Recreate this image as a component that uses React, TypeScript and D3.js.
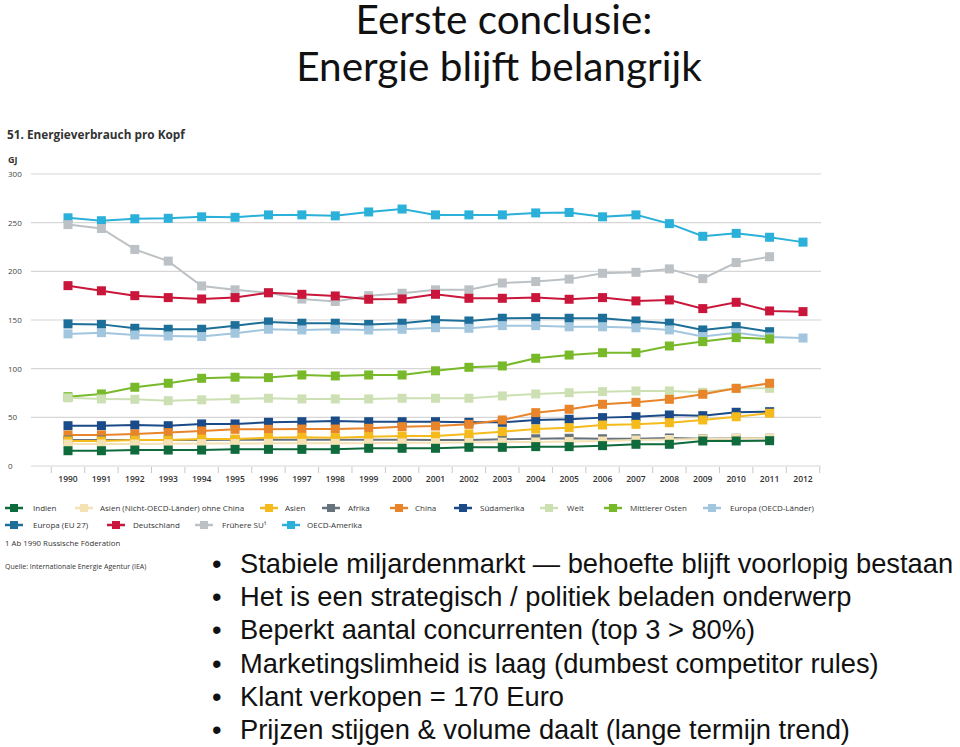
import React from "react";
import * as d3 from "d3";

const years = d3.range(1990, 2013);
const yTicks = [0, 50, 100, 150, 200, 250, 300];

const oecdAmerika = [255, 252, 254, 254.5, 256, 255.5, 258, 258, 257, 261, 264, 258, 258, 258, 260, 260.5, 256, 258, 249, 236, 239, 235, 230];
const fruehereSU = [248, 244, 222.5, 210.5, 185, 181, 178, 171.5, 169, 175, 177.5, 181, 181, 188, 189.5, 192, 198, 199, 202.5, 192.5, 209, 215];
const deutschland = [185.3, 180, 175, 173, 171.6, 173, 178, 176.4, 174.7, 171.3, 171.6, 176.4, 172.3, 172.3, 173, 171.3, 173, 169.6, 170.6, 161.7, 168.2, 159.3, 158.6];
const europaEU27 = [146, 145.5, 141.5, 140.5, 140.5, 144.2, 148, 146.7, 146.7, 145.5, 146.7, 150, 149, 151.8, 152, 151.8, 151.8, 149, 146.7, 139.8, 143.2, 138];
const europaOECD = [135.7, 137, 134.6, 133.6, 133, 136.4, 140.5, 139.8, 140.5, 139.8, 140.5, 142.1, 141.5, 144.2, 144.2, 143, 143, 142, 139.8, 133, 137, 132.6, 131.5];
const mittlererOsten = [71.2, 74, 80.9, 85, 90.1, 91.2, 90.8, 93.5, 92.5, 93.5, 93.5, 97.8, 101.4, 102.8, 110.7, 114, 116.4, 116.4, 123.3, 127.8, 131.9, 130.5];
const welt = [70, 68.9, 68.5, 67.1, 68, 68.9, 69.6, 68.9, 68.9, 68.9, 69.6, 69.6, 69.6, 72, 74, 75.3, 76.4, 77.1, 77.1, 75.7, 79.8, 79.8];
const china = [31.9, 31.9, 32.9, 34.3, 36, 37.7, 37.7, 38, 38, 38.7, 40.4, 41.1, 42.8, 47.3, 54.8, 58.3, 63.4, 65.4, 68.5, 73.7, 79.8, 85];
const suedamerika = [41.4, 41.4, 42.1, 41.4, 43.2, 43.2, 44.9, 45.5, 46.2, 45.5, 45.5, 45.5, 44.9, 44.9, 47.3, 48, 49.7, 50.6, 52.4, 51.7, 55.2, 55.8];
const asien = [25.7, 25.7, 26.7, 26.7, 27.7, 27.7, 29.1, 29.5, 29.1, 30.1, 30.8, 30.8, 32.9, 35.3, 38, 39.4, 42.1, 42.8, 44.5, 47.3, 50.6, 54.2];
const afrika = [26.7, 26.7, 26.7, 26.7, 26.7, 26.9, 26.9, 26.9, 26.9, 26.9, 26.9, 26.7, 26.7, 27.5, 28, 28.5, 28, 28, 28.8, 28, 28.5, 28.5];
const asienNichtOECD = [22.6, 22.6, 22.6, 22.8, 23, 23, 23.3, 23.3, 23.3, 23.5, 23.8, 24, 24.2, 24.5, 24.7, 25.2, 25.7, 26.7, 27.2, 27.8, 28.4, 28.4];
const indien = [15.7, 15.7, 16.4, 16.4, 16.4, 17.1, 17.1, 17.1, 17.1, 18.2, 18.2, 18.2, 19.2, 19.2, 19.9, 19.9, 20.9, 22.3, 22.3, 25.7, 25.7, 26];

const seriesNames = [
  "Indien", "Asien (Nicht-OECD-Länder) ohne China", "Asien", "Afrika", "China", "Südamerika",
  "Welt", "Mittlerer Osten", "Europa (OECD-Länder)", "Europa (EU 27)", "Deutschland", "Frühere SU¹", "OECD-Amerika",
];
const seriesValues = [
  indien, asienNichtOECD, asien, afrika, china, suedamerika,
  welt, mittlererOsten, europaOECD, europaEU27, deutschland, fruehereSU, oecdAmerika,
];
const seriesColors = [
  "#0f6a3c", "#f4e2b4", "#f5ba1c", "#66737d", "#e8842a", "#1a4a87",
  "#cde0b4", "#78b92a", "#a3c6df", "#1d6f99", "#c9163a", "#bcc1c5", "#2ab0d9",
];
// legend layout: [row, markerX, textX]
const legendPos = [
  [0, 5, 33], [0, 75, 100], [0, 260, 285], [0, 322, 348], [0, 390, 415], [0, 454, 480],
  [0, 540, 567], [0, 604, 630], [0, 703, 730], [1, 5, 33], [1, 107, 133], [1, 195, 222], [1, 282, 307],
];

const bullets = [
  "Stabiele miljardenmarkt \u2014 behoefte blijft voorlopig bestaan",
  "Het is een strategisch / politiek beladen onderwerp",
  "Beperkt aantal concurrenten (top 3 > 80%)",
  "Marketingslimheid is laag (dumbest competitor rules)",
  "Klant verkopen = 170 Euro",
  "Prijzen stijgen & volume daalt (lange termijn trend)",
];

export default function App() {
  const x = d3.scaleLinear().domain([1990, 2012]).range([68, 803]);
  const y = d3.scaleLinear().domain([0, 300]).range([466, 174]);
  const line = d3
    .line<number>()
    .x((_, i) => x(years[i]))
    .y((v) => y(v));
  const chartFont = "'Open Sans', 'Noto Sans', sans-serif";
  const ms = 9;
  const drawOrder = d3.range(seriesNames.length).reverse();
  return (
    <svg width={960} height={747} style={{ position: "absolute", left: 0, top: 0, background: "#fff" }}>
      <g fontFamily="Lato, 'Open Sans', sans-serif" fontSize={40.5} fill="#111" textAnchor="middle">
        <text x={504} y={34}>Eerste conclusie:</text>
        <text x={499} y={81}>Energie blijft belangrijk</text>
      </g>
      <g fontFamily={chartFont}>
        <text x={7} y={139} fontSize={11.8} fontWeight={700} fill="#333">51. Energieverbrauch pro Kopf</text>
        <text x={8} y={163} fontSize={9} fontWeight={700} fill="#333">GJ</text>
        {yTicks.map((t) => (
          <g key={t}>
            <line x1={31} x2={821} y1={y(t)} y2={y(t)} stroke="#d6d6d6" strokeWidth={1.2} />
            <text x={8} y={y(t) + 3} fontSize={8} fill="#444">{t}</text>
          </g>
        ))}
        {years.map((yr) => (
          <g key={yr}>
            <line x1={x(yr) - 16.7} x2={x(yr) - 16.7} y1={467} y2={473} stroke="#c8c8c8" />
            <text x={x(yr)} y={482} fontSize={8.5} fontWeight={600} textAnchor="middle" fill="#333">{yr}</text>
          </g>
        ))}
        <line x1={x(2012) + 16.7} x2={x(2012) + 16.7} y1={467} y2={473} stroke="#c8c8c8" />
        {drawOrder.map((k) => (
          <g key={seriesNames[k]}>
            <path d={line(seriesValues[k]) || ""} fill="none" stroke={seriesColors[k]} strokeWidth={2} />
            {seriesValues[k].map((v, i) => (
              <rect key={i} x={x(years[i]) - ms / 2} y={y(v) - ms / 2} width={ms} height={ms} fill={seriesColors[k]} />
            ))}
          </g>
        ))}
        {seriesNames.map((n, k) => {
          const [row, mx, tx] = legendPos[k];
          const cy = 508 + row * 17;
          return (
            <g key={n}>
              <line x1={mx} x2={mx + 18} y1={cy} y2={cy} stroke={seriesColors[k]} strokeWidth={2.5} />
              <rect x={mx + 5} y={cy - 4} width={8} height={8} fill={seriesColors[k]} />
              <text x={tx} y={cy + 3} fontSize={8} fill="#333">{n}</text>
            </g>
          );
        })}
        <text x={5} y={546} fontSize={7.8} fill="#333">1  Ab 1990 Russische Föderation</text>
        <text x={5} y={569} fontSize={7} fill="#333">Quelle: Internationale Energie Agentur (IEA)</text>
      </g>
      <g fontFamily="'Liberation Sans', Arial, sans-serif" fontSize={27.3} fill="#111">
        {bullets.map((b, i) => (
          <g key={i}>
            <text x={212} y={573 + i * 33.2}>•</text>
            <text x={240} y={573 + i * 33.2}>{b}</text>
          </g>
        ))}
      </g>
    </svg>
  );
}
